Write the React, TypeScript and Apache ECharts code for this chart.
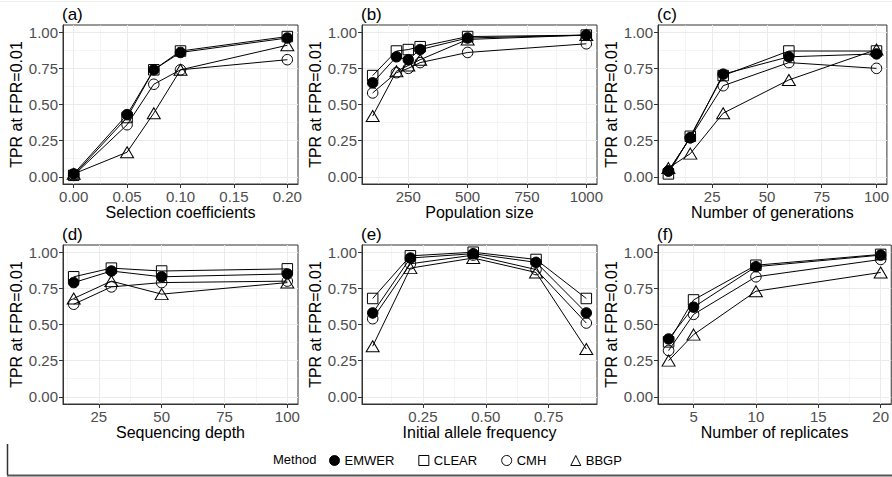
import React, { useEffect, useRef } from 'react';
import * as echarts from 'echarts';

const FONT = '"Liberation Sans", Arial, Helvetica, sans-serif';

const METHODS = ['EMWER', 'CLEAR', 'CMH', 'BBGP'];
const Y_TITLE = 'TPR at FPR=0.01';
const Y_TICKS = [0, 0.25, 0.5, 0.75, 1];
const Y_MINOR = [0.125, 0.375, 0.625, 0.875];

// (a) Selection coefficients
const selX = [0, 0.05, 0.075, 0.1, 0.2];
const selEMWER = [0.02, 0.43, 0.74, 0.86, 0.96];
const selCLEAR = [0.01, 0.41, 0.74, 0.87, 0.97];
const selCMH = [0.01, 0.36, 0.64, 0.74, 0.81];
const selBBGP = [0.02, 0.17, 0.44, 0.74, 0.91];
const selTicks = [0, 0.05, 0.1, 0.15, 0.2];
const selMinor = [0.025, 0.075, 0.125, 0.175];

// (b) Population size
const popX = [100, 200, 250, 300, 500, 1000];
const popEMWER = [0.65, 0.83, 0.81, 0.88, 0.96, 0.98];
const popCLEAR = [0.7, 0.87, 0.88, 0.9, 0.97, 0.98];
const popCMH = [0.58, 0.72, 0.75, 0.79, 0.86, 0.92];
const popBBGP = [0.42, 0.73, 0.77, 0.81, 0.95, 0.98];
const popTicks = [250, 500, 750, 1000];
const popMinor = [125, 375, 625, 875];

// (c) Number of generations
const genX = [5, 15, 30, 60, 100];
const genEMWER = [0.04, 0.27, 0.71, 0.83, 0.85];
const genCLEAR = [0.02, 0.28, 0.7, 0.87, 0.87];
const genCMH = [0.04, 0.27, 0.63, 0.79, 0.75];
const genBBGP = [0.06, 0.16, 0.44, 0.67, 0.88];
const genTicks = [25, 50, 75, 100];
const genMinor = [0, 12.5, 37.5, 62.5, 87.5];

// (d) Sequencing depth
const depthX = [15, 30, 50, 100];
const depthEMWER = [0.79, 0.87, 0.83, 0.85];
const depthCLEAR = [0.83, 0.89, 0.87, 0.885];
const depthCMH = [0.64, 0.76, 0.79, 0.8];
const depthBBGP = [0.68, 0.8, 0.71, 0.79];
const depthTicks = [25, 50, 75, 100];
const depthMinor = [12.5, 37.5, 62.5, 87.5];

// (e) Initial allele frequency
const freqX = [0.05, 0.2, 0.45, 0.7, 0.9];
const freqEMWER = [0.58, 0.96, 0.99, 0.93, 0.58];
const freqCLEAR = [0.68, 0.975, 1.0, 0.95, 0.68];
const freqCMH = [0.54, 0.92, 0.98, 0.88, 0.51];
const freqBBGP = [0.35, 0.89, 0.96, 0.86, 0.33];
const freqTicks = [0.25, 0.5, 0.75];
const freqMinor = [0.125, 0.375, 0.625, 0.875];

// (f) Number of replicates
const repX = [3, 5, 10, 20];
const repEMWER = [0.4, 0.62, 0.9, 0.98];
const repCLEAR = [0.38, 0.67, 0.91, 0.985];
const repCMH = [0.32, 0.57, 0.83, 0.95];
const repBBGP = [0.25, 0.43, 0.73, 0.86];
const repTicks = [5, 10, 15, 20];
const repMinor = [2.5, 7.5, 12.5, 17.5];

const PANELS = [
  { label: '(a)', title: 'Selection coefficients', x: selX, ys: [selEMWER, selCLEAR, selCMH, selBBGP], ticks: selTicks, minor: selMinor, dec: 2 },
  { label: '(b)', title: 'Population size', x: popX, ys: [popEMWER, popCLEAR, popCMH, popBBGP], ticks: popTicks, minor: popMinor, dec: 0 },
  { label: '(c)', title: 'Number of generations', x: genX, ys: [genEMWER, genCLEAR, genCMH, genBBGP], ticks: genTicks, minor: genMinor, dec: 0 },
  { label: '(d)', title: 'Sequencing depth', x: depthX, ys: [depthEMWER, depthCLEAR, depthCMH, depthBBGP], ticks: depthTicks, minor: depthMinor, dec: 0 },
  { label: '(e)', title: 'Initial allele frequency', x: freqX, ys: [freqEMWER, freqCLEAR, freqCMH, freqBBGP], ticks: freqTicks, minor: freqMinor, dec: 2 },
  { label: '(f)', title: 'Number of replicates', x: repX, ys: [repEMWER, repCLEAR, repCMH, repBBGP], ticks: repTicks, minor: repMinor, dec: 0 },
];

const COL_LEFT = [63, 362, 658];
const ROW_TOP = [25, 245];
const PW = 235;
const PH = 159;

const HOLLOW = 'rgba(0,0,0,0)';
const SYMBOLS: Record<string, { symbol: string; size: any; fill: string }> = {
  EMWER: { symbol: 'circle', size: 10.5, fill: '#000' },
  CLEAR: { symbol: 'rect', size: 10.5, fill: HOLLOW },
  CMH: { symbol: 'circle', size: 10.5, fill: HOLLOW },
  BBGP: { symbol: 'triangle', size: [13, 11], fill: HOLLOW },
};

function buildOption() {
  const grids: any[] = [];
  const xAxes: any[] = [];
  const yAxes: any[] = [];
  const series: any[] = [];
  const titles: any[] = [];

  PANELS.forEach((p, i) => {
    const col = i % 3;
    const row = Math.floor(i / 3);
    const left = COL_LEFT[col];
    const top = ROW_TOP[row];
    grids.push({
      left,
      top,
      width: PW,
      height: PH,
      show: true,
      borderColor: '#333',
      borderWidth: 1,
      backgroundColor: 'rgba(0,0,0,0)',
    });
    const xmin = Math.min(...p.x);
    const xmax = Math.max(...p.x);
    const xr = xmax - xmin;
    const lo = xmin - 0.05 * xr;
    const hi = xmax + 0.05 * xr;

    xAxes.push({
      type: 'value',
      gridIndex: i,
      min: lo,
      max: hi,
      position: 'bottom',
      axisLine: { show: true, onZero: false, lineStyle: { color: '#333', width: 1 } },
      axisTick: { show: true, length: 4, lineStyle: { color: '#333' }, customValues: p.ticks },
      axisLabel: {
        customValues: p.ticks,
        formatter: (v: number) => Number(v).toFixed(p.dec),
        color: '#4D4D4D',
        fontSize: 15,
        fontFamily: FONT,
        margin: 5,
      },
      splitLine: { show: true, lineStyle: { color: '#EBEBEB', width: 1 } },
      name: p.title,
      nameLocation: 'middle',
      nameGap: 20,
      nameTextStyle: { color: '#000', fontSize: 16, fontFamily: FONT },
    });
    xAxes.push({
      type: 'value',
      gridIndex: i,
      min: lo,
      max: hi,
      position: 'top',
      axisLine: { show: false, onZero: false },
      axisTick: { show: false, customValues: p.minor },
      axisLabel: { show: false, customValues: p.minor },
      splitLine: { show: true, lineStyle: { color: '#EBEBEB', width: 0.5 } },
    });
    yAxes.push({
      type: 'value',
      gridIndex: i,
      min: -0.05,
      max: 1.05,
      position: 'left',
      axisLine: { show: true, onZero: false, lineStyle: { color: '#333', width: 1 } },
      axisTick: { show: true, length: 4, lineStyle: { color: '#333' }, customValues: Y_TICKS },
      axisLabel: {
        customValues: Y_TICKS,
        formatter: (v: number) => Number(v).toFixed(2),
        color: '#4D4D4D',
        fontSize: 15,
        fontFamily: FONT,
        margin: 5,
      },
      splitLine: { show: true, lineStyle: { color: '#EBEBEB', width: 1 } },
      name: Y_TITLE,
      nameLocation: 'middle',
      nameGap: 37,
      nameTextStyle: { color: '#000', fontSize: 16, fontFamily: FONT },
    });
    yAxes.push({
      type: 'value',
      gridIndex: i,
      min: -0.05,
      max: 1.05,
      position: 'right',
      axisLine: { show: false, onZero: false },
      axisTick: { show: false, customValues: Y_MINOR },
      axisLabel: { show: false, customValues: Y_MINOR },
      splitLine: { show: true, lineStyle: { color: '#EBEBEB', width: 0.5 } },
    });

    METHODS.forEach((m, k) => {
      const s = SYMBOLS[m];
      series.push({
        type: 'line',
        name: m,
        xAxisIndex: 2 * i,
        yAxisIndex: 2 * i,
        data: p.x.map((xv, j) => [xv, p.ys[k][j]]),
        symbol: s.symbol,
        symbolSize: s.size,
        showSymbol: true,
        lineStyle: { color: '#000', width: 1 },
        itemStyle: { color: s.fill, borderColor: '#000', borderWidth: 1 },
        emphasis: { disabled: true },
        z: 3 + k,
      });
    });

    titles.push({
      text: p.label,
      left: left - 1,
      top: top - 19,
      padding: 0,
      textStyle: { fontSize: 17, fontWeight: 'normal', color: '#000', fontFamily: FONT },
    });
  });

  titles.push({
    text: 'Method',
    left: 273,
    top: 453,
    padding: 0,
    textStyle: { fontSize: 13, fontWeight: 'normal', color: '#000', fontFamily: FONT },
  });

  return {
    animation: false,
    backgroundColor: '#fff',
    title: titles,
    grid: grids,
    xAxis: xAxes,
    yAxis: yAxes,
    series,
    legend: {
      left: 329,
      top: 454,
      padding: 0,
      itemWidth: 10,
      itemHeight: 10,
      itemGap: 24,
      selectedMode: false,
      textStyle: { fontSize: 13, color: '#000', fontFamily: FONT },
      data: METHODS.map((m) => ({
        name: m,
        icon: SYMBOLS[m].symbol,
        itemStyle: { color: SYMBOLS[m].fill, borderColor: '#000', borderWidth: 1 },
      })),
    },
    graphic: [
      { type: 'line', shape: { x1: 0, y1: 1.5, x2: 892, y2: 1.5 }, style: { stroke: '#EEEEEE', lineWidth: 1 } },
      { type: 'line', shape: { x1: 7.5, y1: 444, x2: 7.5, y2: 475 }, style: { stroke: '#333', lineWidth: 1.5 } },
      { type: 'line', shape: { x1: 7, y1: 475.5, x2: 892, y2: 475.5 }, style: { stroke: '#555', lineWidth: 2 } },
    ],
  };
}

export default function App() {
  const ref = useRef<HTMLDivElement>(null);
  useEffect(() => {
    if (!ref.current) return;
    const chart = echarts.init(ref.current, null, { renderer: 'svg' });
    chart.setOption(buildOption() as any);
    return () => chart.dispose();
  }, []);
  return (
    <div
      ref={ref}
      style={{ position: 'absolute', left: 0, top: 0, width: 892, height: 477, background: '#fff' }}
    />
  );
}
